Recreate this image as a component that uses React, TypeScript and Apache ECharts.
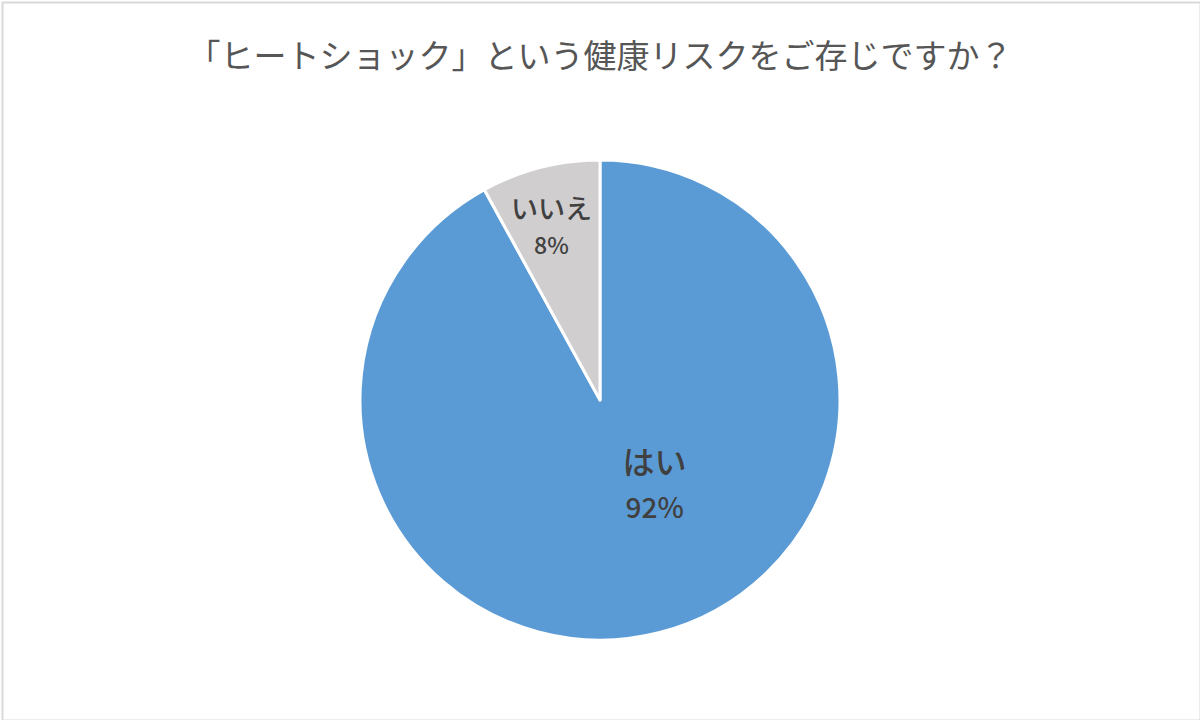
import React, { useEffect, useRef } from 'react';
import * as echarts from 'echarts';

const titleText = '「ヒートショック」という健康リスクをご存じですか？';
const categories = ['はい', 'いいえ'];
const values = [92, 8];
const colors = ['#5B9BD5', '#D0CECE'];

const App: React.FC = () => {
    const chartRef = useRef<HTMLDivElement>(null);

    useEffect(() => {
        if (!chartRef.current) return;
        const chart = echarts.init(chartRef.current, undefined, { renderer: 'svg' });
        const font = '"Noto Sans CJK JP", "Noto Sans", sans-serif';

        // nudges for the in-slice labels, like Excel's best fit placement
        const labelShift = [
            { dx: 24, dy: -37 },
            { dx: -18, dy: -56 }
        ];
        const labelSize = [
            { name: 32, pct: 28, nameLh: 48, pctLh: 44 },
            { name: 27, pct: 23, nameLh: 38, pctLh: 34 }
        ];

        const option: echarts.EChartsOption = {
            animation: false,
            backgroundColor: '#ffffff',
            title: {
                text: titleText,
                left: 'center',
                top: 37,
                padding: 0,
                textStyle: {
                    fontFamily: font,
                    fontSize: 33,
                    fontWeight: 'normal',
                    color: '#565656'
                }
            },
            graphic: [
                {
                    type: 'rect',
                    left: 0,
                    top: 0,
                    shape: { x: 1, y: 1, width: 1198, height: 718 },
                    style: { fill: 'none', stroke: '#D9D9D9', lineWidth: 2 },
                    silent: true
                }
            ],
            color: colors,
            series: [
                {
                    type: 'pie',
                    center: [600, 400],
                    radius: [0, 240],
                    startAngle: 90,
                    clockwise: true,
                    itemStyle: {
                        borderColor: '#ffffff',
                        borderWidth: 3
                    },
                    label: {
                        show: true,
                        position: 'inside',
                        fontFamily: font,
                        color: '#404040'
                    },
                    labelLine: { show: false },
                    labelLayout: (params: any) => labelShift[params.dataIndex],
                    data: categories.map((name, i) => ({
                        name,
                        value: values[i],
                        label: {
                            formatter: '{n|{b}}\n{p|{d}%}',
                            rich: {
                                n: {
                                    fontFamily: font,
                                    fontSize: labelSize[i].name,
                                    fontWeight: 500,
                                    lineHeight: labelSize[i].nameLh,
                                    color: '#404040'
                                },
                                p: {
                                    fontFamily: font,
                                    fontSize: labelSize[i].pct,
                                    fontWeight: 500,
                                    lineHeight: labelSize[i].pctLh,
                                    color: '#404040'
                                }
                            }
                        }
                    }))
                }
            ]
        };
        chart.setOption(option);

        return () => {
            chart.dispose();
        };
    }, []);

    return (
        <div style={{ position: 'fixed', left: 0, top: 0, width: 1200, height: 720 }}>
            <div ref={chartRef} style={{ width: '1200px', height: '720px' }} />
        </div>
    );
};

export default App;
